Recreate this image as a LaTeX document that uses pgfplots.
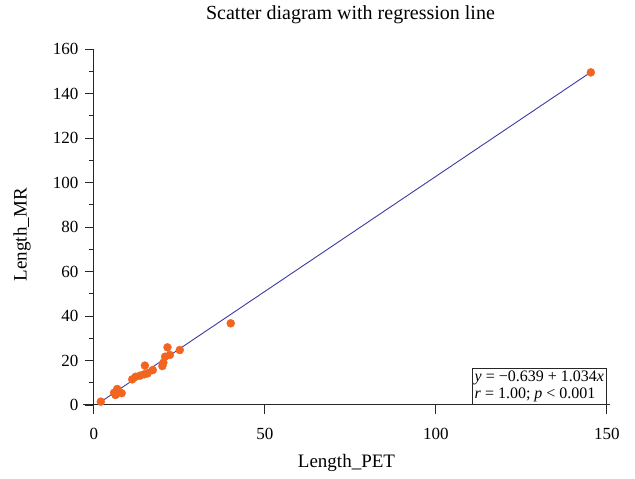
\documentclass[border=0pt]{standalone}
\usepackage{pgfplots}
\pgfplotsset{compat=1.18}
\usepackage{fontspec}
\setmainfont{Liberation Serif}
\definecolor{ptorange}{RGB}{241,101,33}
\definecolor{lineblue}{RGB}{58,60,160}
\begin{document}
\begin{tikzpicture}[x=1pt,y=1pt]
\path[use as bounding box] (0,0) rectangle (635,479);
\begin{axis}[
  at={(83pt,66pt)}, anchor=south west,
  scale only axis, width=527pt, height=364pt,
  xmin=-3.2, xmax=150.9, ymin=-3.6, ymax=160,
  axis lines=middle,
  axis line style={-, line width=1pt, black!85},
  hide obscured x ticks=false, hide obscured y ticks=false,
  xtick={0,50,100,150}, ytick={0,20,...,160},
  minor y tick num=1,
  tick align=outside,
  major tick length=9pt, minor tick length=4.5pt,
  tick style={line width=0.9pt, black!85},
  /pgf/number format/assume math mode=true,
  ticklabel style={font=\fontsize{17}{20}\selectfont},
  xticklabel style={yshift=-11pt},
  yticklabel style={xshift=-3pt},
  title={Scatter diagram with regression line},
  title style={font=\fontsize{20}{22}\selectfont, at={(axis description cs:0.5,1)}, anchor=center, yshift=28pt, xshift=4pt},
  xlabel={Length\_PET},
  ylabel={Length\_MR},
  xlabel style={font=\fontsize{19}{21}\selectfont, at={(axis description cs:0.5,0)}, anchor=center, yshift=-50pt},
  ylabel style={font=\fontsize{19}{21}\selectfont, at={(axis description cs:-0.1157,0.49)}, anchor=center, rotate=90},
  clip=false,
]
\addplot[lineblue, line width=0.9pt] coordinates {(2,1.429) (145.3,149.601)};
\addplot[only marks, mark=*, mark size=4pt, mark options={ptorange, draw=ptorange, fill=ptorange}] coordinates {
(2.0,1.5) (5.9,5.5) (6.8,7.2) (6.3,4.5) (8.1,5.3) (11.2,11.5) (12.2,12.7)
(13.5,13.2) (14.9,17.7) (14.7,13.8) (15.7,14.2) (17.2,15.7) (20.0,17.5)
(20.3,19.0) (20.8,21.7) (21.5,25.9) (22.2,22.5) (25.1,24.7) (40.0,36.7)
(145.3,149.5)
};
\node[draw=black!85, line width=0.8pt, anchor=south east, align=left, inner sep=2.5pt,
  font=\fontsize{16}{17}\selectfont, fill=white] at (axis cs:150,0)
  {\textit{y} = −0.639 + 1.034\textit{x}\\\textit{r} = 1.00; \textit{p} < 0.001};
\end{axis}
\end{tikzpicture}
\end{document}
